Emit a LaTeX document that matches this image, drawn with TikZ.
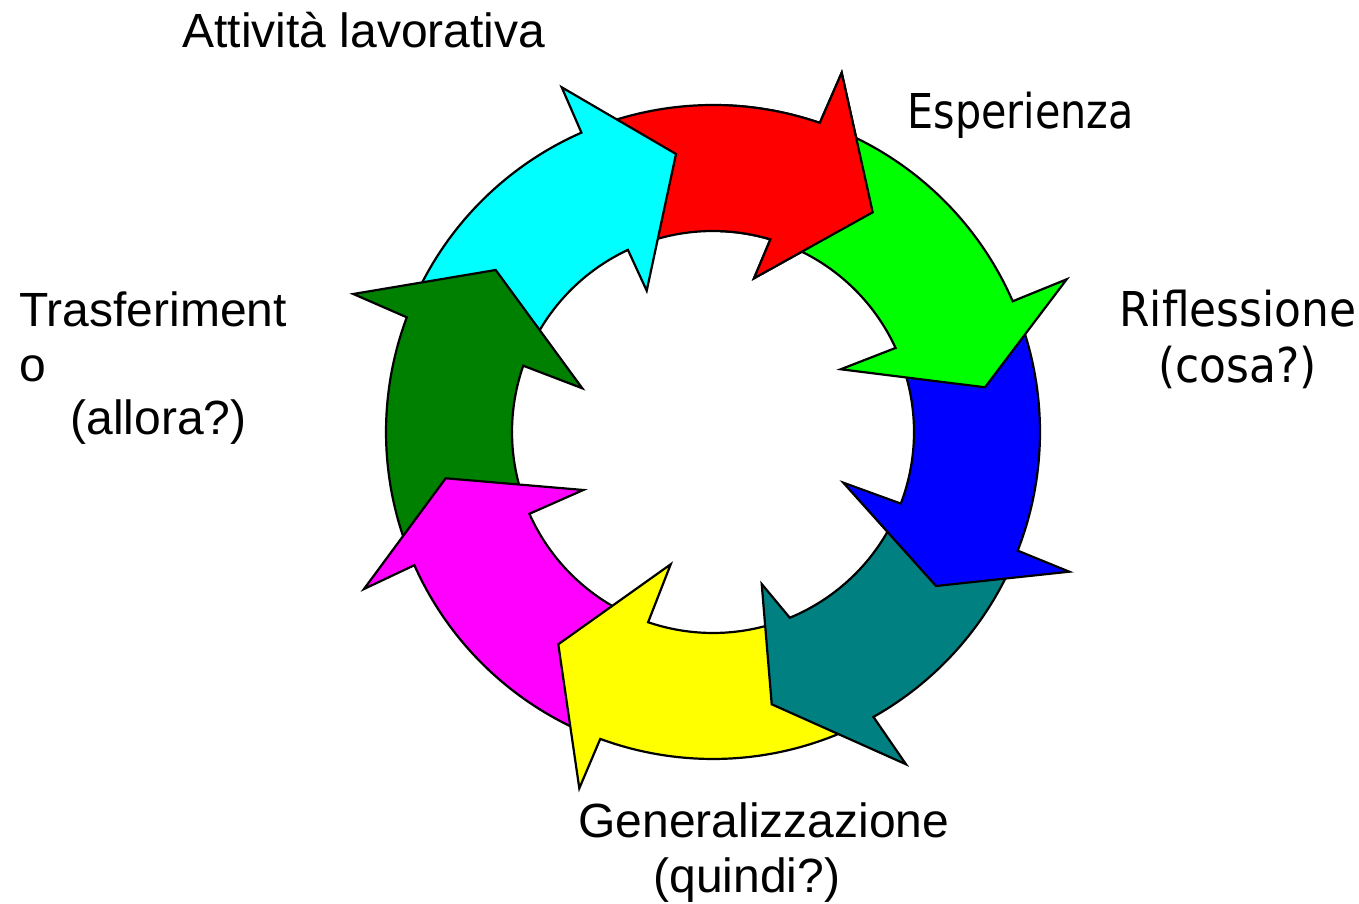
\documentclass[tikz,border=0pt]{standalone}
\usepackage{fontspec}
\setmainfont{Liberation Sans}
\newfontfamily\tahoma[FakeStretch=0.86]{DejaVu Sans}
\newfontfamily\tahomab[FakeStretch=0.915]{DejaVu Sans}
\definecolor{dkgreen}{RGB}{0,128,0}
\definecolor{pcyan}{RGB}{0,255,255}
\definecolor{pmagenta}{RGB}{255,0,255}
\definecolor{pyellow}{RGB}{255,255,0}
\definecolor{pred}{RGB}{255,0,0}
\definecolor{pgreen}{RGB}{0,255,0}
\definecolor{pblue}{RGB}{0,0,255}
\definecolor{pteal}{RGB}{0,128,128}
\tikzset{
  arr/.style={draw=black, line width=1.1pt, line join=miter},
  lbl/.style={anchor=base west, inner sep=0pt, font=\fontsize{24}{28}\selectfont},
  lblt/.style={anchor=base west, inner sep=0pt, font=\tahoma\fontsize{24}{28}\selectfont},
  lbltb/.style={anchor=base west, inner sep=0pt, font=\tahomab\fontsize{24}{28}\selectfont}
}
% #1 colour, #2 tail outer angle, #3 tail inner angle, #4 outer notch angle,
% #5 inner notch angle, #6 outer barb, #7 tip, #8 inner barb
\newcommand\ringarrow[8]{%
  \path[arr, fill=#1] (#2:327) arc[start angle=#2, end angle=#4, radius=327]
    -- #6 -- #7 -- #8 -- (#5:201) arc[start angle=#5, end angle=#3, radius=201] -- cycle;}
\begin{document}
\begin{tikzpicture}[x=0.5pt,y=0.5pt]
\useasboundingbox (0,0) rectangle (1359,904);
\begin{scope}[shift={(713,472)}]
 \ringarrow{pred}{110.4}{110.1}{70.94}{73.41}{(128.7,359.3)}{(159.7,219.7)}{(41,153.7)}
 \ringarrow{pcyan}{156.0}{155.1}{113.73}{115.04}{(-151.3,344.7)}{(-37,278)}{(-66.3,141.3)}
 \ringarrow{dkgreen}{201.2}{199.3}{159.47}{160.75}{(-359.7,138)}{(-217.3,162)}{(-130.7,43.7)}
 \ringarrow{pmagenta}{-113.1}{-114.3}{-155.96}{-155.98}{(-349,-157)}{(-267.3,-46.3)}{(-129.7,-58)}
 \ringarrow{pyellow}{-64.4}{-71.4}{-110.17}{-108.83}{(-133.7,-356.3)}{(-154.7,-212.3)}{(-42.3,-132.3)}
 \ringarrow{pteal}{-24.1}{-25.4}{-60.62}{-67.54}{(193,-332.3)}{(58.7,-272.3)}{(48.7,-152)}
 \ringarrow{pblue}{20.4}{20.0}{-21.28}{-20.87}{(356.3,-139.7)}{(223,-154)}{(130.3,-50.7)}
 \ringarrow{pgreen}{67.4}{68.1}{23.57}{24.72}{(353.7,152.7)}{(272,44.7)}{(127.7,62.7)}
 \begin{scope}
  \clip (7,-50) rectangle (450,450);
  \ringarrow{pred}{110.4}{110.1}{70.94}{73.41}{(128.7,359.3)}{(159.7,219.7)}{(41,153.7)}
 \end{scope}
\end{scope}
\node[lbl] (att) at (182,856) {Attività lavorativa};
\node[lblt] (esp) at (907,775) {Esperienza};
\node[lbltb] (rif) at (1119,577) {Riflessione};
\node[lbltb] (cos) at (1158,521) {(cosa?)};
\node[lbl] (gen) at (578,66) {Generalizzazione};
\node[lbl] (qui) at (653,11) {(quindi?)};
\node[lbl] (tra) at (19,577) {Trasferiment};
\node[lbl] (tro) at (19,522) {o};
\node[lbl] (all) at (70,469) {(allora?)};
\end{tikzpicture}
\end{document}
